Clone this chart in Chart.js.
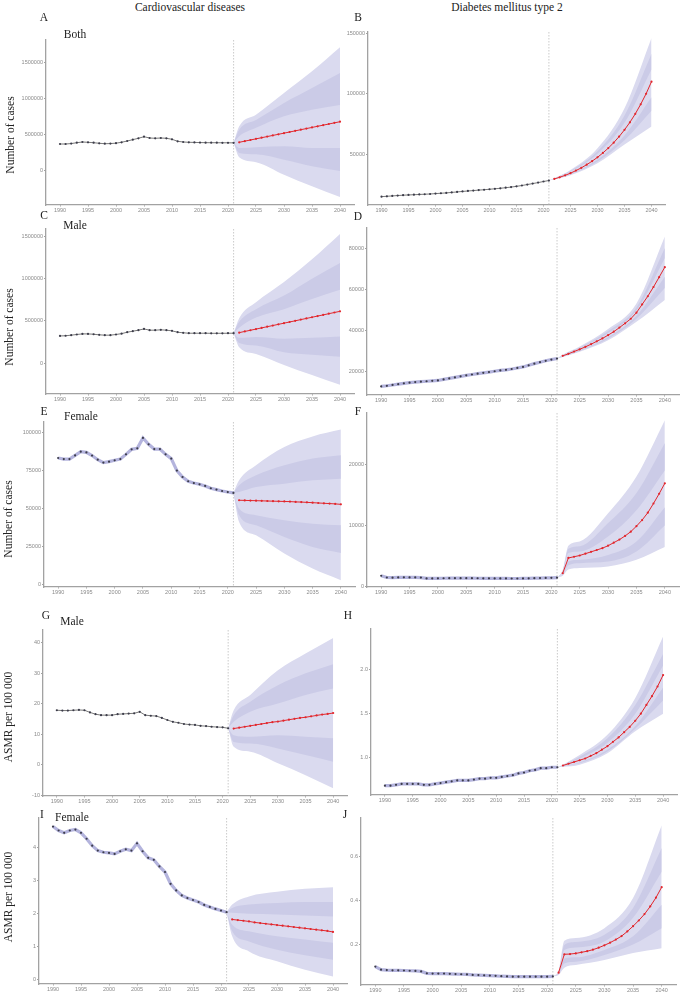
<!DOCTYPE html>
<html>
<head>
<meta charset="utf-8">
<script src="https://cdn.jsdelivr.net/npm/chart.js@4.4.0/dist/chart.umd.min.js"></script>
<style>
  html, body { margin: 0; padding: 0; background: #fff; }
  body { position: relative; width: 682px; height: 992px; overflow: hidden; }
  .panel { position: absolute; }
  .txt { position: absolute; transform: translate(-50%, -50%); white-space: nowrap;
         font-family: 'Liberation Serif', 'Times New Roman', serif; color: #222; font-size: 11.5px; }
  .ytitle { transform: translate(-50%, -50%) rotate(-90deg); font-size: 11.5px; }
</style>
</head>
<body>
<div class="txt" style="left:190px;top:7px">Cardiovascular diseases</div>
<div class="txt" style="left:507px;top:7px">Diabetes mellitus type 2</div>

<div class="txt" style="left:44px;top:17px">A</div>
<div class="txt" style="left:75px;top:34px">Both</div>
<div class="txt" style="left:358px;top:17px">B</div>
<div class="txt" style="left:44px;top:215px">C</div>
<div class="txt" style="left:75px;top:225px">Male</div>
<div class="txt" style="left:358px;top:216px">D</div>
<div class="txt" style="left:44px;top:411px">E</div>
<div class="txt" style="left:81px;top:416px">Female</div>
<div class="txt" style="left:358px;top:411px">F</div>
<div class="txt" style="left:46px;top:615px">G</div>
<div class="txt" style="left:72px;top:621px">Male</div>
<div class="txt" style="left:348px;top:615px">H</div>
<div class="txt" style="left:42px;top:814px">I</div>
<div class="txt" style="left:72px;top:817px">Female</div>
<div class="txt" style="left:345px;top:814px">J</div>

<div class="txt ytitle" style="left:10px;top:135px">Number of cases</div>
<div class="txt ytitle" style="left:9px;top:327px">Number of cases</div>
<div class="txt ytitle" style="left:8px;top:519px">Number of cases</div>
<div class="txt ytitle" style="left:8px;top:717px">ASMR per 100 000</div>
<div class="txt ytitle" style="left:8px;top:897px">ASMR per 100 000</div>

<script>
// --- DATA ---
const HIST_YEARS = [1990, 1991, 1992, 1993, 1994, 1995, 1996, 1997, 1998, 1999, 2000, 2001, 2002, 2003, 2004, 2005,
    2006, 2007, 2008, 2009, 2010, 2011, 2012, 2013, 2014, 2015, 2016, 2017, 2018, 2019, 2020, 2021];
const FC_YEARS = [2022, 2023, 2024, 2025, 2026, 2027, 2028, 2029, 2030, 2031, 2032, 2033, 2034, 2035, 2036, 2037, 2038, 2039, 2040];
const BAND_YEARS = [2021, 2022, 2025, 2030, 2035, 2040];
const BAND_YEARS_STEP = [2021, 2022, 2023, 2025, 2030, 2035, 2040];
const X_TICKS = [1990, 1995, 2000, 2005, 2010, 2015, 2020, 2025, 2030, 2035, 2040];

// A: CVD, both, cases
const A_HIST = [364000, 364000, 370000, 382000, 392000, 388000, 382000, 374000, 368000, 370000, 376000, 388000, 406000, 425000, 444000, 466000,
    448000, 444000, 448000, 444000, 430000, 402000, 392000, 388000, 386000, 384000, 383000, 382000, 382000, 381000, 381000, 380000];
const A_FC = [388000, 404000, 420000, 436000, 452000, 468000, 484000, 500000, 516000, 532000, 548000, 564000, 580000, 596000, 612000, 628000, 644000, 660000, 676000];
const A_U95 = [380000, 612000, 775000, 1078000, 1382000, 1718000];
const A_U80 = [380000, 565000, 700000, 938000, 1148000, 1359000];
const A_U50 = [380000, 472000, 590000, 752000, 845000, 910000];
const A_L50 = [380000, 308000, 320000, 332000, 308000, 308000];
const A_L80 = [380000, 238000, 220000, 144000, 52000, -14000];
const A_L95 = [380000, 178000, 110000, -66000, -228000, -378000];
const A_TICKS = [0, 500000, 1000000, 1500000];

// B: T2DM, both, cases
const B_HIST = [15000, 15300, 15600, 15900, 16200, 16400, 16600, 16800, 17000, 17200, 17500, 17800, 18100, 18500, 18900, 19300,
    19700, 20000, 20400, 20700, 21100, 21500, 21900, 22400, 22900, 23500, 24200, 25000, 25800, 26600, 27500, 28300];
const B_FC = [29600, 31000, 32600, 34400, 36500, 38800, 41400, 44300, 47500, 51100, 55100, 59600, 64600, 70200, 76400, 83400, 91300, 100000, 110000];
const B_U95 = [28300, 30200, 37000, 55000, 88000, 146000];
const B_U80 = [28300, 30100, 36300, 52500, 82000, 133000];
const B_U50 = [28300, 30000, 35700, 50500, 76000, 120000];
const B_L50 = [28300, 29400, 33800, 45500, 65500, 97000];
const B_L80 = [28300, 29300, 33300, 44000, 61500, 86000];
const B_L95 = [28300, 29200, 32700, 42500, 58000, 73000];
const B_TICKS = [50000, 100000, 150000];

// C: CVD, male, cases
const C_HIST = [323000, 325000, 332000, 340000, 347000, 347000, 343000, 336000, 332000, 332000, 340000, 350000, 367000, 379000, 391000, 406000,
    391000, 391000, 395000, 391000, 383000, 367000, 360000, 355000, 355000, 355000, 355000, 354000, 354000, 354000, 355000, 355000];
const C_FC = [362000, 376000, 390000, 404000, 418000, 432000, 446000, 460000, 474000, 488000, 502000, 516000, 530000, 544000, 558000, 572000, 586000, 600000, 614000];
const C_U95 = [355000, 533000, 720000, 960000, 1230000, 1530000];
const C_U80 = [355000, 490000, 640000, 800000, 1000000, 1185000];
const C_U50 = [355000, 420000, 540000, 640000, 760000, 868000];
const C_L50 = [355000, 300000, 310000, 290000, 300000, 315000];
const C_L80 = [355000, 240000, 210000, 130000, 100000, 78000];
const C_L95 = [355000, 190000, 110000, -20000, -140000, -256000];
const C_TICKS = [0, 500000, 1000000, 1500000];

// D: T2DM, male, cases
const D_HIST = [12500, 12800, 13200, 13600, 14000, 14300, 14600, 14800, 15000, 15200, 15400, 15900, 16400, 16900, 17400, 17900,
    18300, 18700, 19100, 19500, 19900, 20300, 20600, 21000, 21500, 22000, 22800, 23600, 24300, 25000, 25600, 26100];
const D_FC = [27400, 28400, 29500, 30600, 31800, 33100, 34500, 35900, 37500, 39200, 41200, 43300, 45500, 48500, 52500, 56500, 61000, 65800, 70700];
const D_U95 = [26100, 28000, 32000, 40500, 53000, 85700];
const D_U80 = [26100, 27800, 31500, 39500, 51000, 80000];
const D_U50 = [26100, 27600, 31000, 38500, 49500, 75000];
const D_L50 = [26100, 27200, 30200, 36500, 47000, 66000];
const D_L80 = [26100, 27000, 29800, 35700, 45500, 60500];
const D_L95 = [26100, 26800, 29400, 35000, 44000, 54700];
const D_TICKS = [20000, 40000, 60000, 80000];

// E: CVD, female, cases
const E_HIST = [83300, 82600, 82600, 85000, 87500, 87000, 84900, 82200, 80300, 80900, 81800, 82600, 85700, 89000, 89700, 96500,
    92300, 89200, 89200, 85700, 82900, 75000, 70800, 68000, 66800, 66000, 64900, 63400, 62500, 61600, 60900, 60300];
const E_FC = [55500, 55400, 55300, 55200, 55100, 55000, 54900, 54800, 54700, 54600, 54400, 54300, 54100, 53900, 53700, 53500, 53300, 53100, 52800];
const E_U95 = [60300, 68600, 78500, 90500, 97500, 102000];
const E_U80 = [60300, 65300, 71900, 78500, 82900, 85100];
const E_U50 = [60300, 60900, 64200, 66400, 68600, 69700];
const E_L50 = [60300, 50000, 45600, 42300, 40100, 39000];
const E_L80 = [60300, 45600, 39000, 31300, 24700, 20800];
const E_L95 = [60300, 41200, 32400, 20400, 10500, 2800];
const E_TICKS = [0, 25000, 50000, 75000, 100000];

// F: T2DM, female, cases
const F_HIST = [1790, 1500, 1480, 1520, 1530, 1520, 1510, 1490, 1350, 1360, 1370, 1380, 1390, 1390, 1390, 1400,
    1390, 1380, 1370, 1370, 1360, 1360, 1350, 1340, 1340, 1350, 1370, 1390, 1410, 1430, 1450, 1480];
const F_FC = [2200, 4700, 4900, 5100, 5400, 5700, 6000, 6300, 6700, 7200, 7700, 8300, 9000, 9900, 10900, 12100, 13600, 15200, 16900];
const F_U95 = [1480, 2700, 6700, 7400, 12000, 18000, 27200];
const F_U80 = [1480, 2600, 6200, 6600, 10400, 15300, 23500];
const F_U50 = [1480, 2400, 5500, 5750, 8200, 12500, 19000];
const F_L50 = [1480, 2000, 4100, 4400, 5200, 7400, 13000];
const F_L80 = [1480, 1900, 3500, 3850, 4100, 5750, 10000];
const F_L95 = [1480, 1800, 2800, 3050, 3300, 4400, 6500];
const F_TICKS = [0, 10000, 20000];

// G: CVD, male, ASMR
const G_HIST = [17.9, 17.8, 17.8, 17.9, 18.0, 17.9, 17.2, 16.6, 16.3, 16.3, 16.3, 16.6, 16.7, 16.8, 16.9, 17.4,
    16.3, 16.1, 16.0, 15.4, 14.7, 14.1, 13.8, 13.4, 13.2, 13.1, 12.8, 12.7, 12.5, 12.4, 12.3, 12.0];
const G_FC = [11.9, 12.2, 12.5, 12.8, 13.1, 13.4, 13.7, 14.0, 14.2, 14.5, 14.8, 15.1, 15.4, 15.6, 15.9, 16.2, 16.5, 16.7, 17.0];
const G_U95 = [12.0, 17.9, 22.9, 31.0, 36.5, 41.6];
const G_U80 = [12.0, 16.3, 20.7, 26.1, 30.0, 33.0];
const G_U50 = [12.0, 14.1, 17.4, 20.1, 22.9, 25.0];
const G_L50 = [12.0, 9.7, 9.2, 9.7, 9.2, 8.7];
const G_L80 = [12.0, 7.5, 7.0, 5.4, 3.2, 1.0];
const G_L95 = [12.0, 5.9, 4.3, 0.5, -3.4, -7.7];
const G_TICKS = [-10, 0, 10, 20, 30, 40];

// H: T2DM, male, ASMR
const H_HIST = [0.68, 0.68, 0.69, 0.70, 0.70, 0.70, 0.70, 0.69, 0.69, 0.70, 0.71, 0.72, 0.73, 0.74, 0.74, 0.74,
    0.75, 0.76, 0.76, 0.77, 0.77, 0.78, 0.79, 0.80, 0.82, 0.83, 0.85, 0.86, 0.88, 0.88, 0.89, 0.89];
const H_FC = [0.91, 0.93, 0.95, 0.97, 0.99, 1.02, 1.05, 1.09, 1.13, 1.18, 1.23, 1.29, 1.35, 1.42, 1.50, 1.60, 1.70, 1.81, 1.94];
const H_U95 = [0.89, 0.92, 1.03, 1.26, 1.68, 2.38];
const H_U80 = [0.89, 0.915, 1.01, 1.22, 1.60, 2.18];
const H_U50 = [0.89, 0.912, 0.99, 1.17, 1.50, 2.05];
const H_L50 = [0.89, 0.905, 0.945, 1.09, 1.36, 1.80];
const H_L80 = [0.89, 0.90, 0.935, 1.07, 1.33, 1.65];
const H_L95 = [0.89, 0.895, 0.92, 1.05, 1.30, 1.50];
const H_TICKS = [1.0, 1.5, 2.0];

// I: CVD, female, ASMR
const I_HIST = [4.65, 4.53, 4.46, 4.53, 4.56, 4.46, 4.28, 4.07, 3.92, 3.87, 3.85, 3.82, 3.90, 3.96, 3.92, 4.14,
    3.90, 3.70, 3.64, 3.44, 3.27, 2.91, 2.71, 2.56, 2.48, 2.42, 2.36, 2.27, 2.21, 2.15, 2.10, 2.05];
const I_FC = [1.83, 1.81, 1.79, 1.77, 1.74, 1.72, 1.70, 1.68, 1.66, 1.64, 1.62, 1.60, 1.58, 1.56, 1.54, 1.52, 1.50, 1.48, 1.45];
const I_U95 = [2.05, 2.28, 2.53, 2.67, 2.76, 2.81];
const I_U80 = [2.05, 2.18, 2.28, 2.33, 2.36, 2.36];
const I_U50 = [2.05, 2.03, 2.00, 1.98, 1.95, 1.92];
const I_L50 = [2.05, 1.67, 1.47, 1.32, 1.22, 1.12];
const I_L80 = [2.05, 1.47, 1.16, 0.91, 0.74, 0.61];
const I_L95 = [2.05, 1.32, 0.86, 0.56, 0.30, 0.10];
const I_TICKS = [0, 1, 2, 3, 4];

// J: T2DM, female, ASMR
const J_HIST = [0.098, 0.084, 0.082, 0.081, 0.081, 0.080, 0.079, 0.078, 0.076, 0.067, 0.066, 0.066, 0.066, 0.065, 0.064, 0.063,
    0.062, 0.060, 0.059, 0.058, 0.057, 0.056, 0.054, 0.053, 0.052, 0.052, 0.052, 0.052, 0.052, 0.052, 0.052, 0.053];
const J_FC = [0.070, 0.154, 0.155, 0.158, 0.163, 0.168, 0.175, 0.184, 0.195, 0.207, 0.221, 0.237, 0.258, 0.282, 0.308, 0.337, 0.372, 0.412, 0.460];
const J_U95 = [0.053, 0.080, 0.216, 0.228, 0.273, 0.410, 0.742];
const J_U80 = [0.053, 0.076, 0.196, 0.210, 0.243, 0.365, 0.638];
const J_U50 = [0.053, 0.073, 0.173, 0.185, 0.212, 0.320, 0.530];
const J_L50 = [0.053, 0.067, 0.135, 0.140, 0.174, 0.236, 0.380];
const J_L80 = [0.053, 0.064, 0.112, 0.120, 0.151, 0.198, 0.273];
const J_L95 = [0.053, 0.060, 0.093, 0.105, 0.128, 0.160, 0.182];
const J_TICKS = [0.2, 0.4, 0.6];

// --- STYLE ---
const OUTER = 'rgb(218,218,239)';
const STRIPE = 'rgb(203,203,231)';
const HALO = 'rgb(180,180,221)';
const RED = '#e2262c';
const DOT = '#3c3c4a';
const AXIS = '#a2a2a2';
const YW = 34, XH = 12, PT = 6, PR = 4;

const plain = v => String(v);
const oneDec = v => v.toFixed(1);

const PANELS = [
    { l: 46, r: 354, t: 40, b: 205, yMin: -490000, yMax: 1820000, ticks: A_TICKS, fmt: plain, hist: A_HIST, fc: A_FC, bandYears: BAND_YEARS,
      u95: A_U95, u80: A_U80, u50: A_U50, l50: A_L50, l80: A_L80, l95: A_L95, halo: false },
    { l: 367.7, r: 665, t: 32, b: 205, yMin: 8100, yMax: 151000, ticks: B_TICKS, fmt: plain, hist: B_HIST, fc: B_FC, bandYears: BAND_YEARS,
      u95: B_U95, u80: B_U80, u50: B_U50, l50: B_L50, l80: B_L80, l95: B_L95, halo: false },
    { l: 46, r: 354, t: 229, b: 394, yMin: -364000, yMax: 1588000, ticks: C_TICKS, fmt: plain, hist: C_HIST, fc: C_FC, bandYears: BAND_YEARS,
      u95: C_U95, u80: C_U80, u50: C_U50, l50: C_L50, l80: C_L80, l95: C_L95, halo: false },
    { l: 367, r: 678.5, t: 228, b: 394.5, yMin: 8300, yMax: 89800, ticks: D_TICKS, fmt: plain, hist: D_HIST, fc: D_FC, bandYears: BAND_YEARS,
      u95: D_U95, u80: D_U80, u50: D_U50, l50: D_L50, l80: D_L80, l95: D_L95, halo: true },
    { l: 44, r: 354.7, t: 421.7, b: 586.7, yMin: -1600, yMax: 107000, ticks: E_TICKS, fmt: plain, hist: E_HIST, fc: E_FC, bandYears: BAND_YEARS,
      u95: E_U95, u80: E_U80, u50: E_U50, l50: E_L50, l80: E_L80, l95: E_L95, halo: true },
    { l: 367, r: 678.5, t: 412.7, b: 586.7, yMin: -50, yMax: 28400, ticks: F_TICKS, fmt: plain, hist: F_HIST, fc: F_FC, bandYears: BAND_YEARS_STEP,
      u95: F_U95, u80: F_U80, u50: F_U50, l50: F_L50, l80: F_L80, l95: F_L95, halo: true },
    { l: 43.3, r: 347.5, t: 630, b: 796, yMin: -10.2, yMax: 44.2, ticks: G_TICKS, fmt: plain, hist: G_HIST, fc: G_FC, bandYears: BAND_YEARS,
      u95: G_U95, u80: G_U80, u50: G_U50, l50: G_L50, l80: G_L80, l95: G_L95, halo: false },
    { l: 371, r: 677, t: 629.3, b: 795, yMin: 0.574, yMax: 2.465, ticks: H_TICKS, fmt: oneDec, hist: H_HIST, fc: H_FC, bandYears: BAND_YEARS,
      u95: H_U95, u80: H_U80, u50: H_U50, l50: H_L50, l80: H_L80, l95: H_L95, halo: true },
    { l: 39.3, r: 347.3, t: 818.3, b: 984.3, yMin: -0.13, yMax: 4.91, ticks: I_TICKS, fmt: plain, hist: I_HIST, fc: I_FC, bandYears: BAND_YEARS,
      u95: I_U95, u80: I_U80, u50: I_U50, l50: I_L50, l80: I_L80, l95: I_L95, halo: true },
    { l: 360.5, r: 675, t: 818.3, b: 985, yMin: 0.014, yMax: 0.775, ticks: J_TICKS, fmt: oneDec, hist: J_HIST, fc: J_FC, bandYears: BAND_YEARS_STEP,
      u95: J_U95, u80: J_U80, u50: J_U50, l50: J_L50, l80: J_L80, l95: J_L95, halo: true }
];

// dotted line at the last observed year
const cutLine = {
    id: 'cutLine',
    beforeDatasetsDraw(chart) {
        const { ctx, chartArea } = chart;
        const x = chart.scales.x.getPixelForValue(2021);
        ctx.save();
        ctx.strokeStyle = '#bdbdbd';
        ctx.lineWidth = 0.8;
        ctx.setLineDash([1.5, 1.5]);
        ctx.beginPath();
        ctx.moveTo(x, chartArea.top);
        ctx.lineTo(x, chartArea.bottom);
        ctx.stroke();
        ctx.restore();
    }
};

function pts(xs, ys) {
    return xs.map((x, i) => ({ x, y: ys[i] }));
}

function bandSet(p, ys, fill, color, order) {
    return {
        data: pts(p.bandYears, ys), fill, backgroundColor: color || 'transparent',
        borderColor: 'transparent', borderWidth: 0, pointRadius: 0,
        cubicInterpolationMode: 'monotone', order
    };
}

function makePanel(p) {
    const w = Math.round(p.r - p.l + YW + PR);
    const h = Math.round(p.b - p.t + PT + XH);
    const wrap = document.createElement('div');
    wrap.className = 'panel';
    wrap.style.left = (p.l - YW) + 'px';
    wrap.style.top = (p.t - PT) + 'px';
    const canvas = document.createElement('canvas');
    canvas.width = w;
    canvas.height = h;
    canvas.style.width = w + 'px';
    canvas.style.height = h + 'px';
    wrap.appendChild(canvas);
    document.body.insertBefore(wrap, document.body.firstChild);

    const datasets = [
        bandSet(p, p.l95, false, null, 30),
        bandSet(p, p.u95, '-1', OUTER, 30),
        bandSet(p, p.u50, false, null, 20),
        bandSet(p, p.u80, '-1', STRIPE, 20),
        bandSet(p, p.l80, false, null, 20),
        bandSet(p, p.l50, '-1', STRIPE, 20)
    ];
    if (p.halo) {
        datasets.push({ data: pts(HIST_YEARS, p.hist), borderColor: HALO, borderWidth: 3.2, pointRadius: 0, fill: false, order: 5 });
    }
    datasets.push({
        data: pts(HIST_YEARS, p.hist), showLine: !p.halo, borderColor: '#555', borderWidth: 0.8,
        pointRadius: 1.1, pointBackgroundColor: DOT, pointBorderWidth: 0, fill: false, order: 1
    });
    datasets.push({
        data: pts(FC_YEARS, p.fc), borderColor: RED, borderWidth: 1,
        pointRadius: 1.1, pointBackgroundColor: RED, pointBorderWidth: 0, fill: false, order: 0
    });

    const tickFont = { family: 'Arial, Liberation Sans, sans-serif', size: 5.5 };
    new Chart(canvas, {
        type: 'line',
        data: { datasets },
        options: {
            responsive: false,
            animation: false,
            layout: { padding: { top: PT, right: PR, left: 0, bottom: 0 } },
            plugins: { legend: { display: false }, tooltip: { enabled: false } },
            scales: {
                x: {
                    type: 'linear', min: 1987.5, max: 2042.5,
                    afterBuildTicks: s => { s.ticks = X_TICKS.map(v => ({ value: v })); },
                    afterFit: s => { s.height = XH; },
                    border: { display: true, color: AXIS, width: 1.3 },
                    grid: { drawOnChartArea: false, color: AXIS, tickLength: 1.5 },
                    ticks: { font: tickFont, color: '#8a8a8a', padding: 0.5, maxRotation: 0, autoSkip: false, callback: v => String(v) }
                },
                y: {
                    type: 'linear', min: p.yMin, max: p.yMax,
                    afterBuildTicks: s => { s.ticks = p.ticks.map(v => ({ value: v })); },
                    afterFit: s => { s.width = YW; },
                    border: { display: true, color: AXIS, width: 1.3 },
                    grid: { drawOnChartArea: false, color: AXIS, tickLength: 2 },
                    ticks: { font: tickFont, color: '#8a8a8a', padding: 1, autoSkip: false, callback: p.fmt }
                }
            }
        },
        plugins: [cutLine]
    });
}

document.addEventListener('DOMContentLoaded', () => {
    PANELS.forEach(makePanel);
});
</script>
</body>
</html>
